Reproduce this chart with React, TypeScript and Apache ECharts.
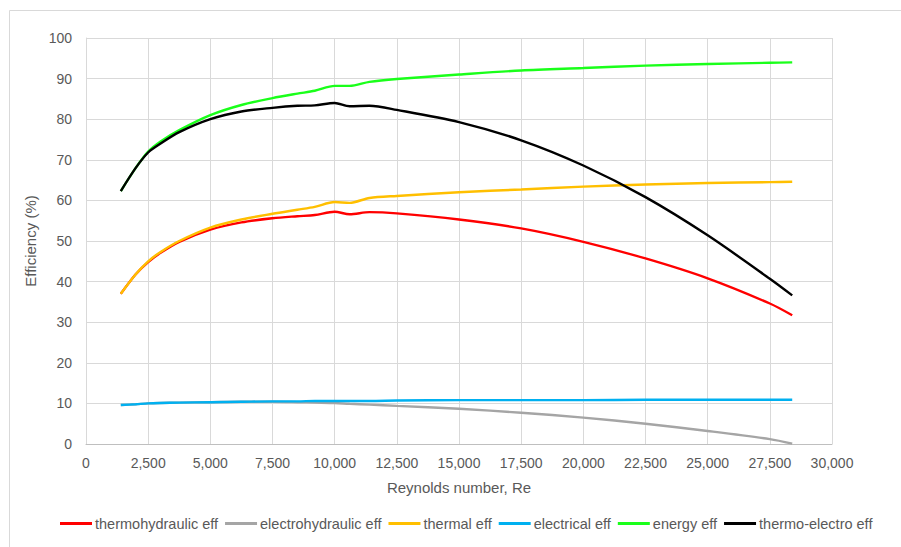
import React, { useEffect, useRef } from "react";
import * as echarts from "echarts";

const reynolds = [1400, 2000, 2500, 3000, 3750, 5000, 6250, 7500, 8500, 9200, 10000, 10600, 11400, 12500, 15000, 17500, 20000, 22500, 25000, 27500, 28400];
const thermohydraulic = [37.0, 41.8, 44.8, 47.1, 49.8, 52.8, 54.6, 55.6, 56.1, 56.4, 57.2, 56.6, 57.1, 56.8, 55.3, 53.1, 49.8, 45.7, 40.8, 34.6, 31.7];
const electrohydraulic = [9.6, 9.8, 10.0, 10.1, 10.2, 10.3, 10.4, 10.4, 10.3, 10.2, 10.1, 9.9, 9.7, 9.4, 8.7, 7.7, 6.5, 5.0, 3.2, 1.2, 0.1];
const thermal = [37.0, 41.8, 45.0, 47.3, 50.0, 53.3, 55.3, 56.7, 57.7, 58.4, 59.6, 59.4, 60.6, 61.1, 62.0, 62.7, 63.4, 63.9, 64.3, 64.5, 64.6];
const electrical = [9.6, 9.8, 10.0, 10.1, 10.2, 10.3, 10.4, 10.5, 10.5, 10.6, 10.6, 10.6, 10.6, 10.7, 10.8, 10.8, 10.8, 10.9, 10.9, 10.9, 10.9];
const energy = [62.3, 68.0, 72.0, 74.5, 77.3, 81.0, 83.5, 85.2, 86.3, 87.0, 88.2, 88.2, 89.2, 89.9, 91.0, 92.0, 92.6, 93.2, 93.6, 93.9, 94.0];
const thermoElectro = [62.3, 68.0, 71.8, 74.0, 76.8, 80.0, 81.9, 82.8, 83.3, 83.4, 84.0, 83.2, 83.3, 82.3, 79.3, 74.8, 68.6, 60.8, 51.4, 40.7, 36.6];

const seriesNames = ["thermohydraulic eff", "electrohydraulic eff", "thermal eff", "electrical eff", "energy eff", "thermo-electro eff"];
const seriesValues = [thermohydraulic, electrohydraulic, thermal, electrical, energy, thermoElectro];
const seriesColors = ["#ff0000", "#a5a5a5", "#ffbf00", "#00b0f0", "#1aff1a", "#000000"];

const FONT = "Liberation Sans";

export default function App() {
  const ref = useRef<HTMLDivElement>(null);
  useEffect(() => {
    if (!ref.current) return;
    const chart = echarts.init(ref.current, undefined, { renderer: "svg" });
    chart.setOption({
      animation: false,
      backgroundColor: "#ffffff",
      textStyle: { fontFamily: FONT },
      graphic: [
        {
          type: "rect",
          shape: { x: 9.5, y: 10.5, width: 900, height: 560 },
          style: { fill: "none", stroke: "#d9d9d9", lineWidth: 1 },
          silent: true,
        },
      ],
      grid: { left: 86, right: 69, top: 38, bottom: 103 },
      legend: {
        bottom: 11,
        left: 55,
        icon: "rect",
        itemWidth: 32,
        itemHeight: 3,
        itemGap: 7,
        textStyle: { fontFamily: FONT, fontSize: 14.5, color: "#595959", padding: [0, 0, 0, -2] },
        data: seriesNames,
      },
      xAxis: {
        type: "value",
        min: 0,
        max: 30000,
        interval: 2500,
        name: "Reynolds number, Re",
        nameLocation: "middle",
        nameGap: 36,
        nameTextStyle: { fontFamily: FONT, fontSize: 15, color: "#595959" },
        axisLine: { show: true, lineStyle: { color: "#bfbfbf", width: 1 } },
        axisTick: { show: false },
        axisLabel: {
          fontFamily: FONT,
          fontSize: 14,
          color: "#595959",
          margin: 12,
          formatter: (v: number) => v.toLocaleString("en-US"),
        },
        splitLine: { show: true, lineStyle: { color: "#d9d9d9", width: 1 } },
      },
      yAxis: {
        type: "value",
        min: 0,
        max: 100,
        interval: 10,
        name: "Efficiency (%)",
        nameLocation: "middle",
        nameGap: 42,
        nameTextStyle: { fontFamily: FONT, fontSize: 15, color: "#595959" },
        axisLine: { show: true, lineStyle: { color: "#d9d9d9", width: 1 } },
        axisTick: { show: false },
        axisLabel: { fontFamily: FONT, fontSize: 14, color: "#595959", margin: 14 },
        splitLine: { show: true, lineStyle: { color: "#d9d9d9", width: 1 } },
      },
      series: seriesNames.map((name, i) => ({
        name,
        type: "line",
        smooth: 0.3,
        showSymbol: false,
        symbol: "none",
        color: seriesColors[i],
        lineStyle: { color: seriesColors[i], width: 2.4 },
        data: reynolds.map((x, j) => [x, seriesValues[i][j]]),
      })),
    });
    return () => chart.dispose();
  }, []);
  return (
    <div
      ref={ref}
      style={{ position: "fixed", left: 0, top: 0, width: 901, height: 547 }}
    />
  );
}
